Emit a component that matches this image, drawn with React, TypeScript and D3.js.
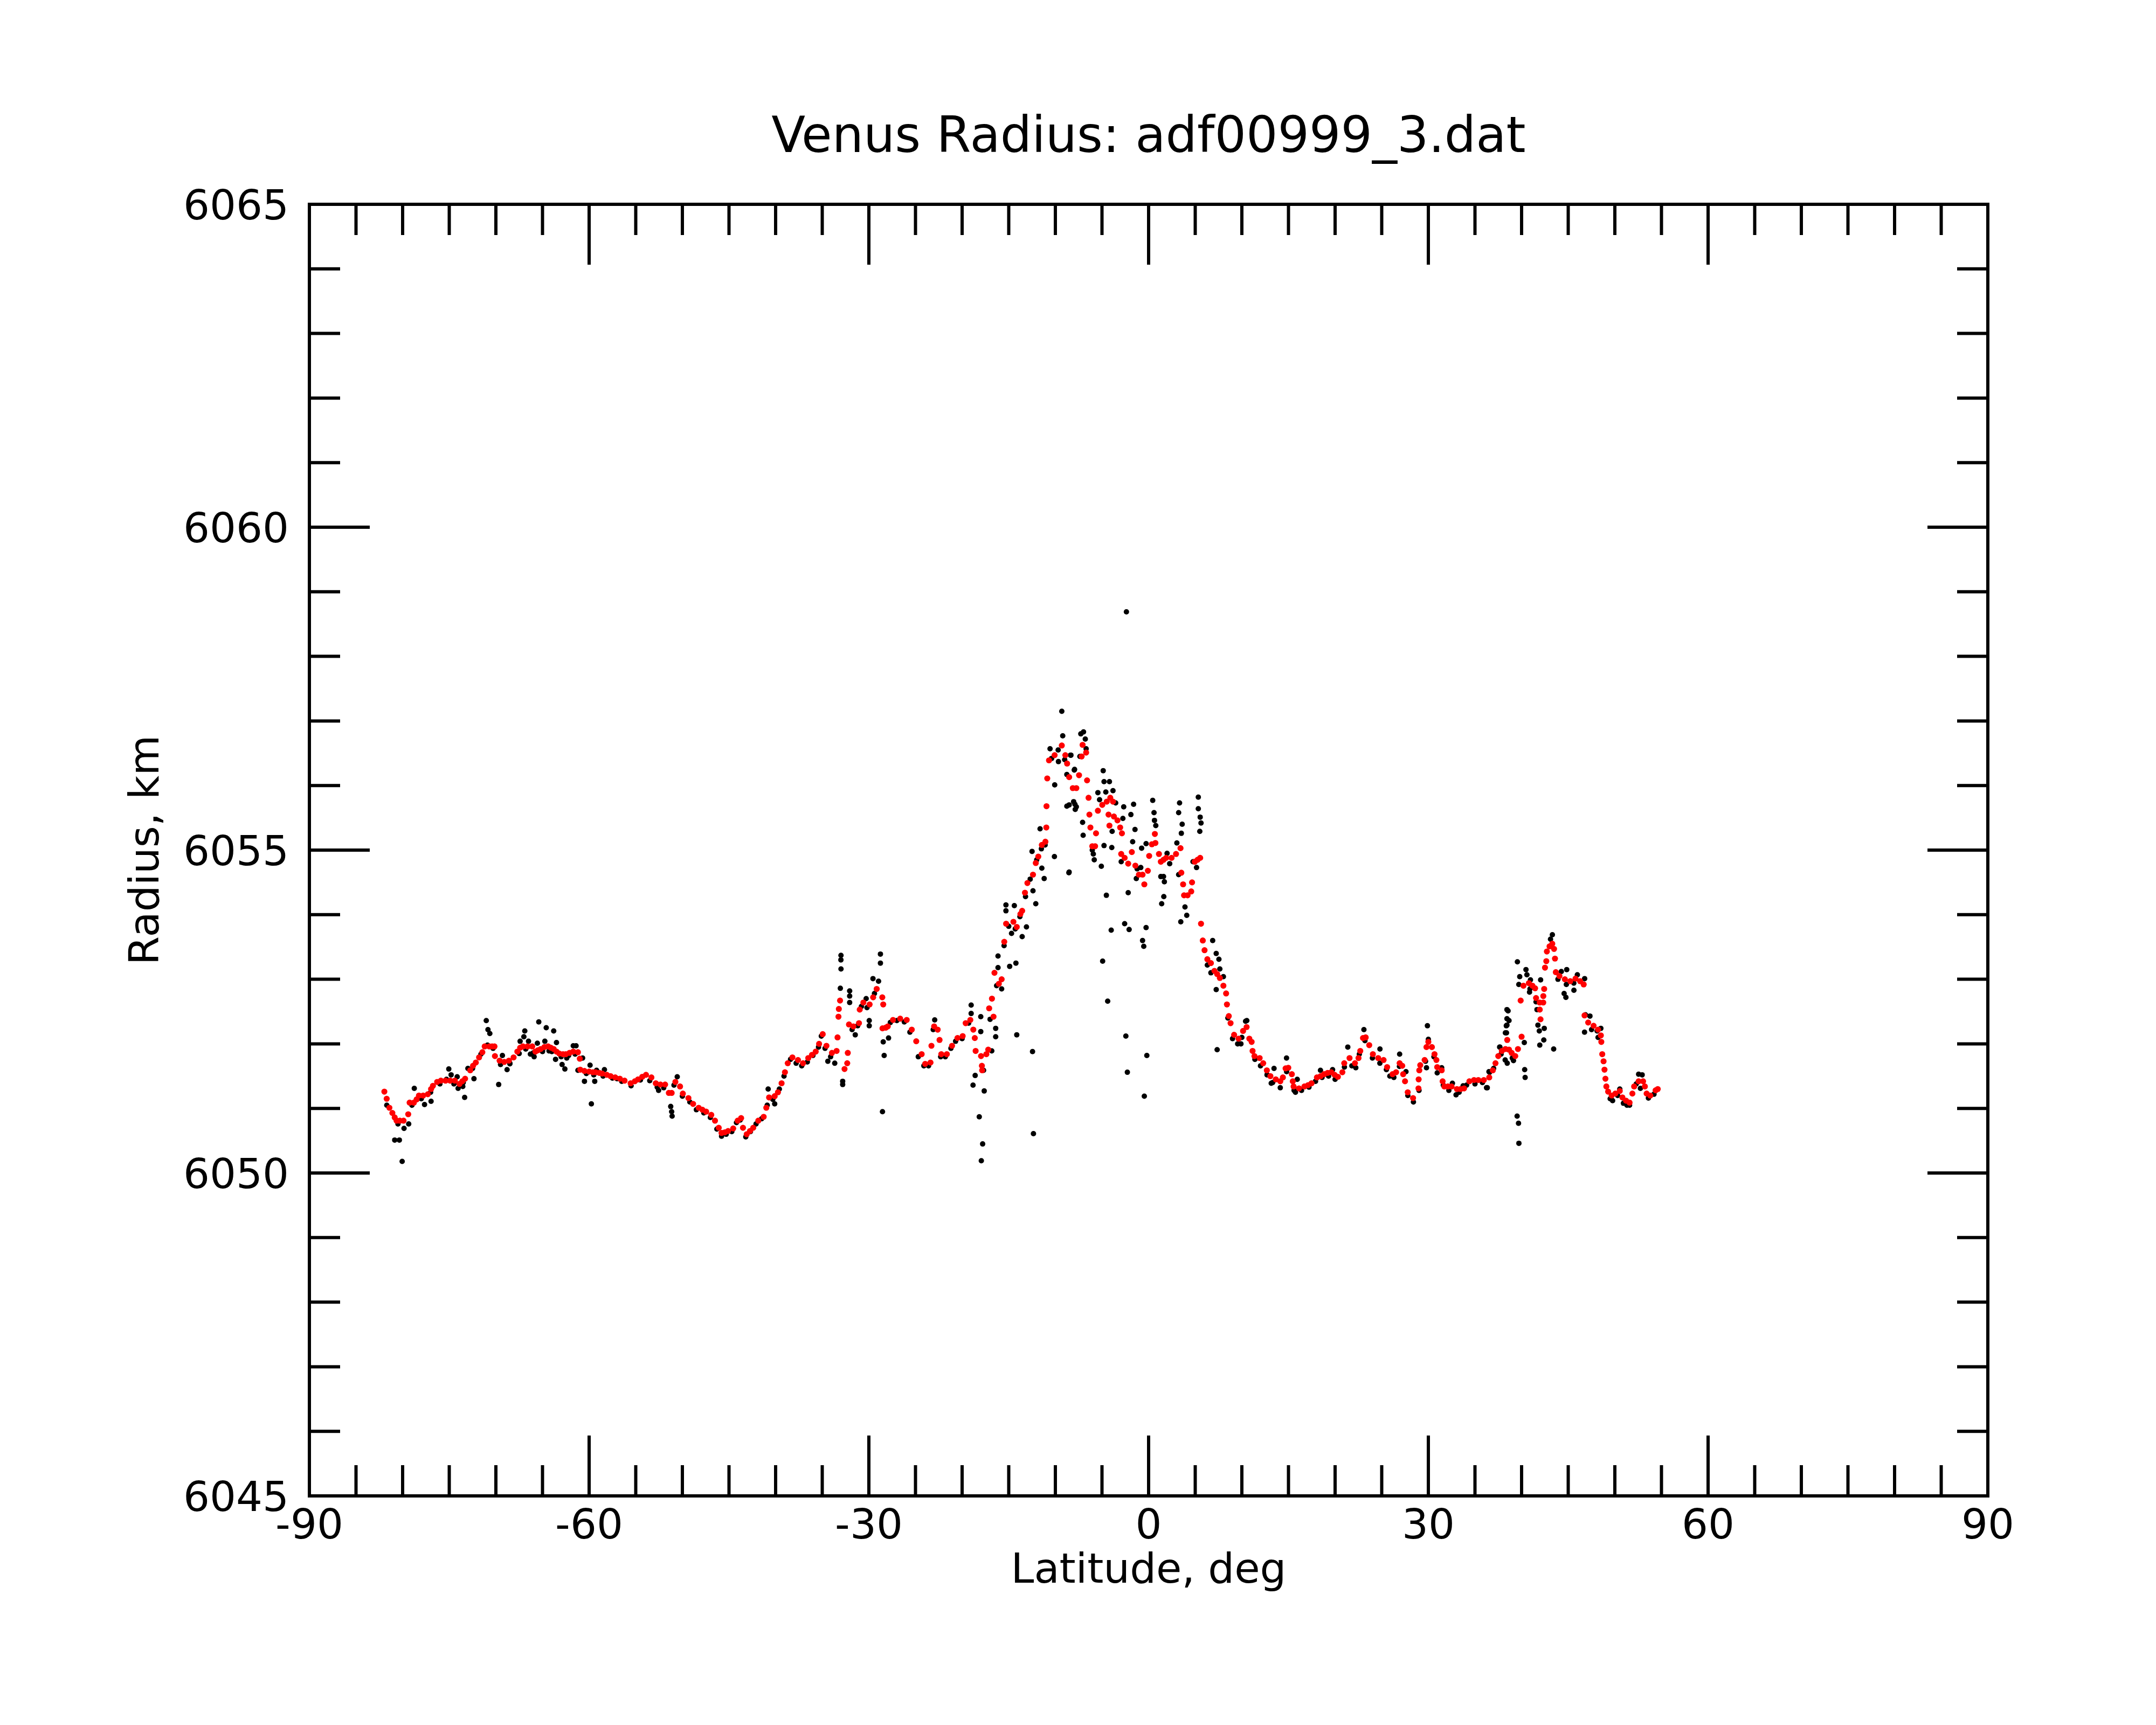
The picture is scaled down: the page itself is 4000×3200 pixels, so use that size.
import React from 'react';
import * as d3 from 'd3';

const title = 'Venus Radius: adf00999_3.dat';
const xLabel = 'Latitude, deg';
const yLabel = 'Radius, km';
const xDomain = [-90, 90];
const yDomain = [6045, 6065];
const xTickLabels = [-90, -60, -30, 0, 30, 60, 90];
const yTickLabels = [6045, 6050, 6055, 6060, 6065];

// raw radius samples (black dots): [latitude, radius km]
const rawPoints: [number, number][] = [
  [-71.03, 6052.36], [-70.85, 6052.22], [-70.65, 6052.16], [-75.05, 6051.61], [-74.8, 6051.52], [-78.75, 6051.31],
  [-77.65, 6051.06], [-76.95, 6051.11], [-80.85, 6050.51], [-80.35, 6050.51], [-80.05, 6050.18], [-79.85, 6050.69],
  [-79.35, 6050.76], [-74.05, 6051.31], [-73.55, 6051.34], [-73.35, 6051.17], [-73.0, 6051.62], [-72.35, 6051.46],
  [-74.15, 6051.49], [-69.7, 6051.37], [-69.3, 6051.82], [-68.8, 6051.6], [-68.5, 6051.69], [-67.0, 6052.11],
  [-66.9, 6052.2], [-67.4, 6052.04], [-66.5, 6052.04], [-65.4, 6052.34], [-64.6, 6052.25], [-63.8, 6052.2],
  [-63.5, 6052.02], [-65.55, 6052.01], [-64.75, 6052.04], [-66.3, 6051.84], [-65.9, 6051.8], [-65.0, 6051.88],
  [-64.3, 6051.89], [-63.6, 6051.76], [-62.9, 6051.68], [-62.6, 6051.61], [-62.4, 6051.78], [-61.7, 6051.97],
  [-61.4, 6051.97], [-60.7, 6051.78], [-61.2, 6051.59], [-60.5, 6051.42], [-59.9, 6051.67], [-59.76, 6051.07],
  [-59.4, 6051.42], [-59.2, 6051.59], [-58.36, 6051.6], [-57.0, 6051.46],
  [-52.55, 6051.28], [-51.25, 6051.03], [-51.15, 6050.95], [-51.1, 6050.88], [-50.55, 6051.49], [-40.8, 6051.3],
  [-40.1, 6051.07], [-32.99, 6053.37], [-33.0, 6053.3], [-32.99, 6053.16], [-33.06, 6052.86], [-32.06, 6052.82],
  [-32.06, 6052.74], [-32.06, 6052.64], [-32.81, 6051.42], [-32.81, 6051.37], [-34.4, 6051.73], [-33.66, 6051.7],
  [-31.46, 6052.14], [-29.96, 6052.36], [-29.96, 6052.28], [-29.56, 6053.01], [-28.96, 6052.97], [-28.76, 6053.39],
  [-28.76, 6053.25], [-28.46, 6052.03], [-28.36, 6051.82], [-28.54, 6050.95],
  [-30.29, 6052.7], [-27.89, 6052.09], [-22.94, 6052.37], [-19.03, 6052.6], [-19.03, 6052.47], [-18.0, 6052.42],
  [-18.0, 6052.19], [-18.6, 6051.51], [-18.83, 6051.36], [-17.63, 6051.27], [-18.16, 6050.87], [-17.8, 6050.45],
  [-17.94, 6050.19], [-17.7, 6051.59], [-16.82, 6051.89], [-16.4, 6052.24], [-16.4, 6052.11], [-16.15, 6053.36],
  [-16.15, 6053.18], [-15.76, 6052.85], [-14.9, 6053.2], [-14.23, 6053.25], [-14.14, 6052.14], [-15.3, 6054.15],
  [-15.3, 6054.06], [-14.7, 6053.71], [-14.4, 6054.14], [-13.56, 6053.66], [-13.1, 6053.81], [-12.4, 6054.37],
  [-12.1, 6054.17], [-12.45, 6051.88], [-12.35, 6050.61], [-12.5, 6054.98], [-11.64, 6055.33], [-11.45, 6054.72],
  [-11.2, 6054.56], [-10.57, 6056.57], [-10.07, 6056.01], [-10.1, 6054.9], [-9.31, 6057.15], [-9.21, 6056.77],
  [-9.67, 6056.37], [-8.37, 6056.47], [-7.97, 6056.24], [-8.55, 6054.65], [-8.77, 6055.68], [-7.9, 6055.71],
  [-7.87, 6055.63], [-8.77, 6056.17],
  [-2.38, 6058.69], [-7.27, 6056.8], [-6.98, 6056.83], [-6.79, 6056.72], [-6.7, 6056.57], [-7.37, 6056.45],
  [-8.33, 6056.47], [-7.94, 6056.25], [-8.52, 6055.7], [-8.04, 6055.75], [-7.75, 6055.67], [-7.08, 6055.43],
  [-7.02, 6055.23], [-8.52, 6054.66], [-5.93, 6054.94], [-5.83, 6054.85], [-6.04, 6055.0], [-5.07, 6054.75],
  [-4.87, 6056.23], [-4.78, 6056.06], [-4.2, 6056.06], [-5.44, 6055.89], [-4.59, 6055.9], [-3.82, 6055.92],
  [-5.26, 6055.78], [-3.53, 6055.73], [-4.78, 6055.07], [-3.95, 6055.04], [-4.53, 6054.3], [-4.01, 6053.76],
  [-4.93, 6053.28], [-4.39, 6052.66], [-3.91, 6055.29], [-2.67, 6055.67], [-2.76, 6055.49], [-1.61, 6055.71],
  [-1.9, 6055.55], [-1.46, 6055.32], [-1.71, 6055.13], [-2.94, 6054.82], [-2.19, 6054.34], [-2.57, 6053.86],
  [-2.09, 6053.77], [-2.44, 6052.12], [-2.28, 6051.56], [-0.19, 6051.82], [-0.46, 6051.19], [-0.27, 6053.8],
  [-0.65, 6053.6], [-0.52, 6053.51], [-0.75, 6055.03], [-0.27, 6055.1], [0.44, 6055.77], [0.58, 6055.58],
  [0.63, 6055.46], [0.77, 6055.38], [-1.23, 6054.71], [-0.84, 6054.73], [-1.32, 6054.56], [1.31, 6054.59],
  [1.6, 6054.59], [1.69, 6054.51], [1.63, 6054.28], [1.4, 6054.17], [1.98, 6054.95], [2.26, 6054.79],
  [3.03, 6055.11], [3.32, 6055.73], [3.22, 6055.58], [3.6, 6055.4], [3.51, 6055.26], [3.22, 6054.62],
  [3.9, 6054.12], [4.09, 6053.99], [3.45, 6053.89], [5.33, 6055.82], [5.33, 6055.64], [5.53, 6055.51],
  [5.62, 6055.42], [5.49, 6055.29], [4.76, 6054.82], [5.14, 6054.73], [6.87, 6053.6], [7.25, 6053.4],
  [7.54, 6053.31], [7.64, 6053.16], [6.3, 6053.22], [6.68, 6053.1], [7.25, 6052.84], [8.02, 6053.04],
  [7.35, 6051.91], [9.55, 6052.0], [10.4, 6052.35],
  [10.53, 6052.36], [9.9, 6052.0], [13.45, 6051.62], [13.15, 6051.39], [14.12, 6051.32], [14.79, 6051.78],
  [15.94, 6051.45], [15.75, 6051.25], [18.43, 6051.59], [19.73, 6051.6], [21.36, 6051.95], [22.22, 6051.63],
  [23.09, 6052.22], [24.81, 6051.92], [26.92, 6051.84], [25.87, 6051.5], [27.6, 6051.57], [29.9, 6052.28],
  [30.0, 6052.07], [29.8, 6051.63], [29.7, 6051.73], [31.43, 6051.63], [30.95, 6051.55], [32.58, 6051.39],
  [32.97, 6051.21], [33.73, 6051.35], [36.5, 6051.57], [36.32, 6051.32], [37.67, 6051.95], [38.43, 6052.53],
  [38.43, 6052.39], [38.43, 6052.29], [38.38, 6052.17], [38.24, 6051.75],
  [43.3, 6053.69], [43.1, 6053.62], [39.55, 6053.27], [40.47, 6053.15], [39.8, 6053.04], [40.57, 6053.07],
  [40.95, 6052.99], [42.04, 6052.99], [40.85, 6052.8], [39.7, 6052.92], [44.84, 6053.15], [44.26, 6053.12],
  [45.98, 6053.07], [46.76, 6053.01], [44.56, 6052.78], [44.75, 6052.72], [45.61, 6052.83], [41.55, 6052.65],
  [41.65, 6052.53], [41.75, 6052.29], [42.43, 6052.24], [41.9, 6052.2], [42.38, 6052.06], [41.95, 6051.98],
  [43.44, 6051.92], [38.55, 6052.51], [38.65, 6052.36], [38.36, 6052.28], [38.26, 6052.17], [40.29, 6052.02],
  [40.33, 6051.6], [40.38, 6051.48], [39.52, 6050.88], [39.67, 6050.77], [39.71, 6050.46], [37.65, 6051.95],
  [38.46, 6051.7], [39.13, 6051.74], [36.24, 6051.32], [36.57, 6051.56], [46.85, 6052.45], [47.33, 6052.43],
  [46.75, 6052.18], [48.1, 6052.2], [48.5, 6052.24], [49.76, 6051.12], [50.53, 6051.3], [50.92, 6051.08],
  [51.58, 6051.05], [52.55, 6051.53], [52.93, 6051.52], [52.74, 6051.31],
  // samples lying just under the smoothed curve
  [-81.7, 6051.05], [-80.5, 6050.76], [-79.0, 6051.05], [-78.0, 6051.15], [-77.0, 6051.25], [-76.0, 6051.38],
  [-75.3, 6051.45], [-74.5, 6051.38], [-73.5, 6051.4], [-72.5, 6051.62], [-71.6, 6051.84], [-70.9, 6051.98],
  [-70.3, 6051.93], [-69.5, 6051.68], [-68.5, 6051.7], [-67.5, 6051.85], [-66.8, 6051.92], [-66.0, 6051.86],
  [-65.0, 6051.9], [-64.0, 6051.88], [-63.0, 6051.8], [-62.2, 6051.82], [-61.5, 6051.84], [-60.3, 6051.54],
  [-59.5, 6051.52], [-58.5, 6051.5], [-57.5, 6051.47], [-56.5, 6051.42], [-55.5, 6051.35], [-54.5, 6051.44],
  [-53.5, 6051.43], [-52.7, 6051.33], [-52.0, 6051.32], [-50.9, 6051.36], [-50.0, 6051.19], [-49.2, 6051.1],
  [-48.5, 6050.98], [-47.7, 6050.93], [-47.0, 6050.86], [-46.3, 6050.68], [-45.8, 6050.57], [-45.3, 6050.6],
  [-44.7, 6050.64], [-44.2, 6050.78], [-43.8, 6050.82], [-43.2, 6050.56], [-42.7, 6050.64], [-42.1, 6050.76],
  [-41.5, 6050.84], [-40.9, 6051.05], [-40.3, 6051.14], [-39.6, 6051.3], [-39.1, 6051.5], [-38.4, 6051.76],
  [-37.8, 6051.7], [-37.2, 6051.66], [-36.6, 6051.72], [-36.0, 6051.82], [-35.4, 6051.95], [-35.1, 6052.12],
  [-34.7, 6051.93], [-34.1, 6051.8], [-31.8, 6052.22], [-31.2, 6052.28], [-30.8, 6052.58], [-30.2, 6052.56],
  [-29.4, 6052.78], [-27.7, 6052.33], [-27.0, 6052.36], [-26.2, 6052.34], [-25.6, 6052.18], [-24.7, 6051.8],
  [-24.1, 6051.66], [-23.6, 6051.66], [-23.1, 6052.22], [-22.3, 6051.8], [-21.8, 6051.8], [-21.2, 6051.93],
  [-20.7, 6052.04], [-20.0, 6052.08], [-19.3, 6052.32], [-17.0, 6052.38], [-16.3, 6052.9], [-15.5, 6053.52],
  [-15.0, 6053.82], [-14.3, 6053.78], [-13.8, 6053.97], [-13.2, 6054.28], [-12.7, 6054.55], [-12.0, 6054.85],
  [-11.5, 6055.02], [-11.1, 6055.08], [-10.4, 6056.42], [-9.7, 6056.55], [-9.0, 6056.4],
  [8.5, 6052.4], [9.0, 6052.08], [10.0, 6052.1], [11.4, 6051.76], [12.0, 6051.66], [12.7, 6051.52],
  [13.3, 6051.4], [14.8, 6051.57], [15.6, 6051.28], [16.4, 6051.28], [17.2, 6051.33], [17.9, 6051.42],
  [18.6, 6051.48], [19.3, 6051.5], [20.0, 6051.45], [21.0, 6051.64], [21.8, 6051.66], [22.6, 6051.84],
  [23.2, 6052.05], [24.0, 6051.78], [24.8, 6051.7], [25.5, 6051.6], [26.3, 6051.48], [26.9, 6051.65],
  [27.8, 6051.2], [28.4, 6051.1], [29.0, 6051.28], [30.6, 6051.8], [31.6, 6051.36], [32.2, 6051.28],
  [33.3, 6051.25], [34.1, 6051.36], [35.0, 6051.38], [35.8, 6051.4], [37.0, 6051.62], [37.8, 6051.84],
  [39.0, 6051.78], [40.9, 6052.85], [43.9, 6053.0], [44.8, 6052.92], [45.6, 6052.94], [47.5, 6052.22],
  [48.2, 6052.1], [49.5, 6051.15], [50.3, 6051.2], [51.3, 6051.05], [52.3, 6051.38], [53.6, 6051.16],
  [54.2, 6051.22],
];

// smoothed radius profile (red dots): [latitude, radius km]
const smoothPoints: [number, number][] = [
  [-81.96, 6051.26], [-81.71, 6051.15], [-81.42, 6051.01], [-81.1, 6050.93], [-80.85, 6050.86], [-80.65, 6050.81],
  [-80.3, 6050.81], [-79.9, 6050.81], [-79.4, 6050.91], [-79.25, 6051.09], [-78.8, 6051.09], [-78.5, 6051.14],
  [-78.25, 6051.2], [-77.8, 6051.2], [-77.3, 6051.22], [-76.95, 6051.3], [-76.75, 6051.35], [-76.3, 6051.41],
  [-75.9, 6051.43], [-75.4, 6051.43], [-74.9, 6051.43], [-74.4, 6051.43], [-73.9, 6051.38], [-73.6, 6051.42],
  [-73.3, 6051.46], [-72.75, 6051.59], [-72.45, 6051.66], [-72.15, 6051.71], [-71.8, 6051.79], [-71.45, 6051.87],
  [-71.2, 6051.96], [-70.7, 6051.96], [-70.4, 6051.96], [-70.15, 6051.96], [-70.1, 6051.81], [-69.6, 6051.74],
  [-69.1, 6051.72], [-68.6, 6051.74], [-68.1, 6051.79], [-67.7, 6051.88], [-67.4, 6051.94], [-67.1, 6051.96],
  [-66.6, 6051.96], [-66.1, 6051.96], [-65.76, 6051.88], [-65.5, 6051.9], [-65.2, 6051.92], [-64.8, 6051.95],
  [-64.4, 6051.96], [-64.1, 6051.94], [-63.8, 6051.92], [-63.5, 6051.88], [-63.2, 6051.85], [-62.8, 6051.84],
  [-62.5, 6051.84], [-62.1, 6051.86], [-61.7, 6051.88], [-61.2, 6051.87], [-61.0, 6051.77], [-60.95, 6051.6],
  [-60.5, 6051.58], [-60.0, 6051.57], [-59.6, 6051.56], [-59.3, 6051.56], [-58.9, 6051.55], [-58.6, 6051.54],
  [-58.1, 6051.52], [-57.7, 6051.5], [-57.2, 6051.48], [-56.7, 6051.46], [-56.2, 6051.43], [-55.55, 6051.39],
  [-55.1, 6051.42], [-54.75, 6051.45], [-54.3, 6051.49], [-53.9, 6051.52], [-53.32, 6051.48], [-52.85, 6051.39],
  [-52.35, 6051.37], [-51.85, 6051.37], [-51.45, 6051.24], [-51.15, 6051.24], [-50.75, 6051.41], [-50.25, 6051.34],
  [-49.95, 6051.23], [-49.35, 6051.16], [-48.85, 6051.07], [-48.25, 6051.01], [-47.85, 6050.98], [-47.45, 6050.95],
  [-46.9, 6050.9], [-46.5, 6050.81], [-46.1, 6050.7], [-45.8, 6050.62], [-45.45, 6050.63], [-45.1, 6050.65],
  [-44.55, 6050.69], [-44.07, 6050.81], [-43.7, 6050.85], [-43.5, 6050.7], [-43.1, 6050.6], [-42.75, 6050.65],
  [-42.4, 6050.7], [-41.86, 6050.81], [-41.28, 6050.87], [-41.0, 6051.01], [-40.7, 6051.17], [-40.1, 6051.19],
  [-39.75, 6051.25], [-39.36, 6051.39], [-39.0, 6051.56], [-38.7, 6051.7], [-38.2, 6051.79], [-37.6, 6051.75],
  [-37.06, 6051.7], [-36.5, 6051.78], [-36.1, 6051.83], [-35.7, 6051.88], [-35.34, 6052.0], [-34.95, 6052.15],
  [-34.55, 6051.97], [-33.96, 6051.86], [-33.46, 6051.89], [-33.36, 6052.1], [-33.26, 6052.42], [-33.22, 6052.54],
  [-33.09, 6052.67], [-32.61, 6051.61], [-32.32, 6051.7], [-32.26, 6051.86], [-32.13, 6052.3], [-31.66, 6052.27],
  [-31.06, 6052.32], [-30.98, 6052.53], [-30.59, 6052.64], [-29.92, 6052.61], [-29.54, 6052.72], [-29.16, 6052.85],
  [-28.56, 6052.72], [-28.46, 6052.61], [-28.2, 6052.25], [-28.54, 6052.24], [-27.97, 6052.27], [-27.41, 6052.37],
  [-26.64, 6052.39], [-25.94, 6052.37], [-25.4, 6052.22], [-24.92, 6052.04], [-24.34, 6051.84], [-23.96, 6051.69],
  [-23.39, 6051.71], [-23.29, 6051.97], [-23.0, 6052.27], [-22.62, 6052.22], [-22.42, 6052.06], [-22.23, 6051.84],
  [-21.64, 6051.84], [-21.08, 6051.97], [-20.5, 6052.09], [-19.94, 6052.12], [-19.62, 6052.32], [-19.12, 6052.37],
  [-18.8, 6052.22], [-18.64, 6052.09], [-18.55, 6051.89], [-17.97, 6051.81], [-17.88, 6051.66], [-17.85, 6051.59],
  [-17.4, 6051.84], [-17.2, 6051.91], [-17.1, 6052.55], [-16.8, 6052.7], [-16.63, 6052.42], [-16.53, 6053.1],
  [-16.06, 6052.93], [-15.76, 6053.0], [-15.48, 6053.58], [-15.28, 6053.86], [-14.5, 6053.89], [-14.14, 6053.81],
  [-13.75, 6054.01], [-13.56, 6054.06], [-13.26, 6054.34], [-13.0, 6054.49], [-12.4, 6054.62], [-12.1, 6054.8],
  [-11.83, 6054.9], [-11.45, 6055.08], [-11.07, 6055.13], [-10.97, 6055.35], [-10.95, 6055.68], [-10.87, 6056.11],
  [-10.68, 6056.39], [-10.08, 6056.47], [-9.31, 6056.62], [-8.93, 6056.47], [-8.74, 6056.34], [-8.52, 6056.13],
  [-8.13, 6055.96], [-7.75, 6055.96], [-7.46, 6056.16], [-7.18, 6056.45], [-7.08, 6056.63], [-6.7, 6056.51],
  [-6.6, 6056.08], [-6.44, 6055.81], [-6.35, 6055.55], [-6.24, 6055.35], [-6.04, 6055.06], [-5.74, 6055.06],
  [-5.64, 6055.26], [-5.44, 6055.61], [-4.97, 6055.7], [-4.49, 6055.75], [-4.11, 6055.81], [-3.82, 6055.75],
  [-4.3, 6055.55], [-4.2, 6055.38], [-3.72, 6055.52], [-3.34, 6055.46], [-3.05, 6055.35], [-2.86, 6055.26],
  [-2.94, 6054.94], [-2.57, 6054.88], [-2.19, 6054.79], [-1.8, 6054.97], [-1.42, 6054.76], [-1.04, 6054.62],
  [-0.65, 6054.62], [-0.46, 6054.47], [-0.08, 6054.68], [0.06, 6054.91], [0.35, 6055.09], [0.67, 6055.25],
  [0.73, 6055.11], [1.11, 6054.94], [1.31, 6054.82], [1.6, 6054.85], [1.88, 6054.88], [2.46, 6054.88],
  [2.94, 6054.94], [3.42, 6055.03], [3.51, 6054.65], [3.7, 6054.47], [3.8, 6054.3], [4.18, 6054.3],
  [4.57, 6054.36], [4.66, 6054.5], [4.95, 6054.82], [5.25, 6054.85], [5.53, 6054.88], [5.62, 6053.86],
  [5.81, 6053.6], [6.0, 6053.45], [6.3, 6053.31], [6.68, 6053.25], [7.06, 6053.13], [7.35, 6053.08],
  [7.64, 6053.02], [8.02, 6052.9], [8.31, 6052.78], [8.4, 6052.61], [8.6, 6052.43], [8.79, 6052.32],
  [9.17, 6052.14], [9.65, 6052.08], [10.13, 6052.2], [10.51, 6052.26], [10.8, 6052.08], [11.05, 6052.03],
  [11.15, 6051.89], [11.35, 6051.81], [11.91, 6051.78], [12.29, 6051.7], [12.68, 6051.59], [13.06, 6051.5],
  [13.64, 6051.45], [14.12, 6051.42], [14.4, 6051.48], [14.69, 6051.62], [14.98, 6051.63], [15.36, 6051.53],
  [15.46, 6051.42], [15.55, 6051.34], [16.13, 6051.31], [16.71, 6051.34], [17.1, 6051.36], [17.47, 6051.39],
  [18.05, 6051.48], [18.45, 6051.5], [18.82, 6051.53], [19.2, 6051.55], [19.58, 6051.56], [19.95, 6051.52],
  [20.3, 6051.49], [20.78, 6051.56], [20.98, 6051.7], [21.55, 6051.78], [22.13, 6051.7], [22.51, 6051.78],
  [22.7, 6051.89], [22.99, 6052.09], [23.28, 6052.1], [23.66, 6051.98], [24.05, 6051.84], [24.62, 6051.78],
  [25.2, 6051.75], [25.58, 6051.64], [26.16, 6051.53], [26.54, 6051.56], [26.92, 6051.7], [27.2, 6051.66],
  [27.3, 6051.53], [27.5, 6051.42], [27.79, 6051.25], [28.36, 6051.16], [28.94, 6051.31], [28.96, 6051.45],
  [29.03, 6051.59], [29.13, 6051.67], [29.6, 6051.75], [29.8, 6051.95], [30.0, 6052.03], [30.38, 6051.95],
  [30.66, 6051.84], [30.86, 6051.75], [30.95, 6051.64], [31.43, 6051.59], [31.53, 6051.42], [31.72, 6051.34],
  [32.1, 6051.34], [32.49, 6051.34], [33.06, 6051.3], [33.45, 6051.3], [33.83, 6051.31], [34.4, 6051.42],
  [34.9, 6051.44], [35.36, 6051.44], [35.95, 6051.44], [36.53, 6051.48], [36.91, 6051.59], [37.2, 6051.7],
  [37.5, 6051.81], [37.88, 6051.89], [38.26, 6051.92], [38.65, 6051.91], [38.93, 6051.86], [39.32, 6051.81],
  [39.61, 6051.92], [38.46, 6052.06], [40.0, 6052.11], [39.9, 6052.67], [40.2, 6052.9], [40.78, 6052.94],
  [41.16, 6052.9], [41.45, 6052.86], [41.55, 6052.71], [41.94, 6052.64], [42.32, 6052.64], [42.33, 6052.74],
  [42.42, 6052.85], [41.95, 6052.53], [42.03, 6052.38], [42.51, 6053.18], [42.65, 6053.28], [42.71, 6053.43],
  [43.0, 6053.51], [43.29, 6053.55], [43.48, 6053.47], [43.58, 6053.32], [43.67, 6053.11], [44.06, 6053.05],
  [44.64, 6053.0], [45.22, 6052.97], [45.78, 6053.01], [46.28, 6052.97], [46.66, 6052.92], [46.75, 6052.44],
  [47.14, 6052.33], [47.72, 6052.28], [48.2, 6052.22], [48.5, 6052.13], [48.55, 6052.03], [48.65, 6051.84],
  [48.79, 6051.73], [48.89, 6051.6], [48.99, 6051.46], [49.09, 6051.34], [49.28, 6051.26], [49.66, 6051.2],
  [50.05, 6051.23], [50.53, 6051.27], [50.81, 6051.17], [51.2, 6051.12], [51.58, 6051.09], [51.88, 6051.23],
  [52.07, 6051.34], [52.55, 6051.42], [53.03, 6051.42], [53.22, 6051.34], [53.41, 6051.23], [53.8, 6051.2],
  [54.37, 6051.28], [54.6, 6051.3],
];

const W = 4000;
const H = 3200;
const plot = { left: 574, right: 3688, top: 379, bottom: 2775 };
const font = '"DejaVu Sans", sans-serif';

export default function App() {
  const x = d3.scaleLinear().domain(xDomain).range([plot.left, plot.right]);
  const y = d3.scaleLinear().domain(yDomain).range([plot.bottom, plot.top]);
  const xTicks = x.ticks(36); // every 5 deg
  const yTicks = y.ticks(20); // every 1 km
  const major = 112;
  const minor = 57;
  const cx = (plot.left + plot.right) / 2;
  const cy = (plot.top + plot.bottom) / 2;

  return (
    <svg width={W} height={H} style={{ position: 'absolute', left: 0, top: 0, background: '#fff' }}>
      <rect x={0} y={0} width={W} height={H} fill="#fff" />

      {rawPoints.map((d, i) => (
        <circle key={'b' + i} cx={x(d[0])} cy={y(d[1])} r={5} fill="#000" />
      ))}
      {smoothPoints.map((d, i) => (
        <circle key={'r' + i} cx={x(d[0])} cy={y(d[1])} r={5.6} fill="#ff0000" />
      ))}

      <g stroke="#000" strokeWidth={6}>
        {xTicks.map(t => {
          const len = t % 30 === 0 ? major : minor;
          return (
            <g key={'xt' + t}>
              <line x1={x(t)} x2={x(t)} y1={plot.bottom} y2={plot.bottom - len} />
              <line x1={x(t)} x2={x(t)} y1={plot.top} y2={plot.top + len} />
            </g>
          );
        })}
        {yTicks.map(t => {
          const len = t % 5 === 0 ? major : minor;
          return (
            <g key={'yt' + t}>
              <line x1={plot.left} x2={plot.left + len} y1={y(t)} y2={y(t)} />
              <line x1={plot.right} x2={plot.right - len} y1={y(t)} y2={y(t)} />
            </g>
          );
        })}
        <rect x={plot.left} y={plot.top} width={plot.right - plot.left} height={plot.bottom - plot.top} fill="none" />
      </g>

      <g fontFamily={font} fontSize={77} fill="#000">
        {xTickLabels.map(t => (
          <text key={'xl' + t} x={x(t)} y={plot.bottom + 79} textAnchor="middle">{t}</text>
        ))}
        {yTickLabels.map(t => (
          <text key={'yl' + t} x={plot.left - 38} y={y(t) + 28} textAnchor="end">{t}</text>
        ))}
        <text x={cx} y={2936} textAnchor="middle">{xLabel}</text>
        <text transform={`translate(294, ${cy}) rotate(-90)`} textAnchor="middle">{yLabel}</text>
      </g>
      <text x={cx} y={282} textAnchor="middle" fontFamily={font} fontSize={92} fill="#000">{title}</text>
    </svg>
  );
}
